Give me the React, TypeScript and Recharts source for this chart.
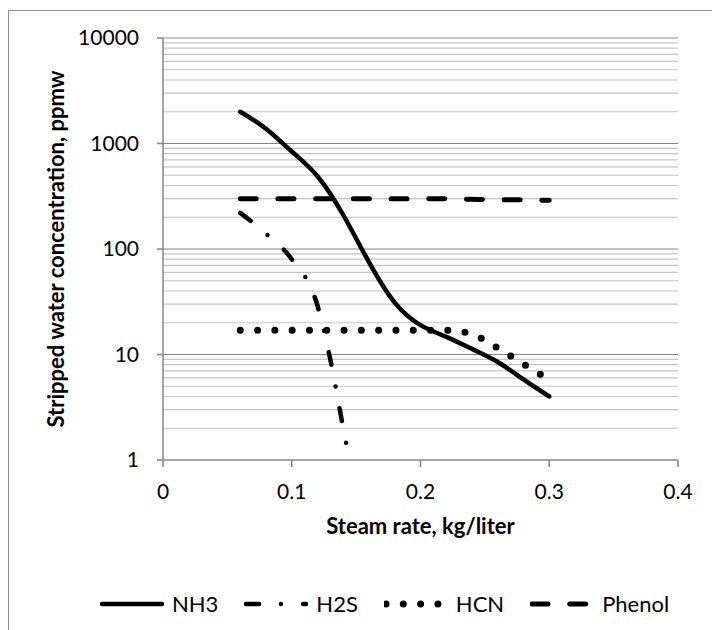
import { LineChart, Line, XAxis, YAxis, ReferenceLine, Legend } from 'recharts';

// steam rate, kg/liter
const nh3X = [0.06, 0.08, 0.1, 0.12, 0.14, 0.16, 0.18, 0.2, 0.22, 0.24, 0.26, 0.28, 0.3];
const nh3Y = [2000, 1380, 840, 490, 210, 75, 31, 19, 14.7, 11.3, 8.5, 5.8, 4];

const h2sX = [0.06, 0.08, 0.1, 0.12, 0.13, 0.14, 0.1445];
const h2sY = [220, 140, 80, 29, 8.9, 2, 1.05];

const hcnX = [0.06, 0.08, 0.1, 0.12, 0.14, 0.16, 0.18, 0.2, 0.22, 0.24, 0.26, 0.28, 0.3];
const hcnY = [17, 17, 17, 17, 17, 17, 17, 17, 17, 15.6, 11.5, 8.1, 5.8];

const phenolX = [0.06, 0.1, 0.15, 0.2, 0.25, 0.3];
const phenolY = [300, 300, 300, 300, 295, 290];

const xTicks = [0, 0.1, 0.2, 0.3, 0.4];
const yTicks = [1, 10, 100, 1000, 10000];
const yMinor = [2, 3, 4, 5, 6, 7, 8, 9, 20, 30, 40, 50, 60, 70, 80, 90, 200, 300, 400, 500, 600, 700, 800, 900, 2000, 3000, 4000, 5000, 6000, 7000, 8000, 9000];

const toPoints = (xs: number[], ys: number[]) => xs.map((x, i) => ({ x, y: ys[i] }));

const series = [
  { name: 'NH3', data: toPoints(nh3X, nh3Y), width: 4.5, dash: undefined as string | undefined, curve: 'natural' as const },
  { name: 'H2S', data: toPoints(h2sX, h2sY), width: 4.5, dash: '13 22 0 22', curve: 'monotone' as const },
  { name: 'HCN', data: toPoints(hcnX, hcnY), width: 7, dash: '0 17.3', curve: 'monotone' as const },
  { name: 'Phenol', data: toPoints(phenolX, phenolY), width: 5, dash: '16 21.7', curve: 'monotone' as const },
];

const gridGray = '#868686';
const font = 'Lato, "Noto Sans", sans-serif';

const renderLegend = () => (
  <div style={{ display: 'flex', alignItems: 'center', fontSize: 22, color: '#000' }}>
    {series.map((s) => (
      <div key={s.name} style={{ display: 'flex', alignItems: 'center', marginRight: 26 }}>
        <svg width={64} height={12}>
          <line x1={2} y1={6} x2={62} y2={6} stroke="#000" strokeWidth={s.width}
            strokeDasharray={s.dash} strokeLinecap="round" />
        </svg>
        <span style={{ marginLeft: 8 }}>{s.name}</span>
      </div>
    ))}
  </div>
);

const App = () => {
  return (
    <div style={{ position: 'absolute', left: 0, top: 0, width: 712, height: 630, overflow: 'hidden', background: '#fff', fontFamily: font }}>
      <div style={{ position: 'absolute', left: 8, top: 10, width: 740, height: 660, border: '1px solid #8c8c8c' }} />
      <LineChart width={712} height={630} margin={{ top: 38, right: 34, bottom: 0, left: 0 }}>
        {yMinor.map((v) => (
          <ReferenceLine key={'m' + v} y={v} stroke="#c4c4c4" strokeWidth={1.2} />
        ))}
        {yTicks.slice(1).map((v) => (
          <ReferenceLine key={'M' + v} y={v} stroke={gridGray} strokeWidth={1.2} />
        ))}
        <XAxis type="number" dataKey="x" domain={[0, 0.4]} ticks={xTicks} height={140}
          stroke={gridGray} strokeWidth={1.5} tickSize={7} tickMargin={17}
          tick={{ fill: '#000', fontSize: 21 }}
          label={{ value: 'Steam rate, kg/liter', position: 'insideTop', offset: 58, fill: '#000', fontSize: 22, fontWeight: 'bold' }} />
        <YAxis type="number" dataKey="y" scale="log" domain={[1, 10000]} ticks={yTicks} width={163}
          allowDataOverflow stroke={gridGray} strokeWidth={1.5} tickSize={6} tickMargin={18}
          tick={{ fill: '#000', fontSize: 21 }}
          label={{ value: 'Stripped water concentration, ppmw', angle: -90, position: 'insideLeft', offset: 56,
            fill: '#000', fontSize: 22, fontWeight: 'bold', style: { textAnchor: 'middle' } }} />
        <Legend verticalAlign="bottom" content={renderLegend}
          wrapperStyle={{ left: 100, top: 590, bottom: 'auto', height: 30, width: 610 }} />
        {series.map((s) => (
          <Line key={s.name} name={s.name} data={s.data} dataKey="y" type={s.curve} stroke="#000"
            strokeWidth={s.width} strokeDasharray={s.dash} strokeLinecap="round"
            dot={false} activeDot={false} isAnimationActive={false} />
        ))}
      </LineChart>
    </div>
  );
};

export default App;
